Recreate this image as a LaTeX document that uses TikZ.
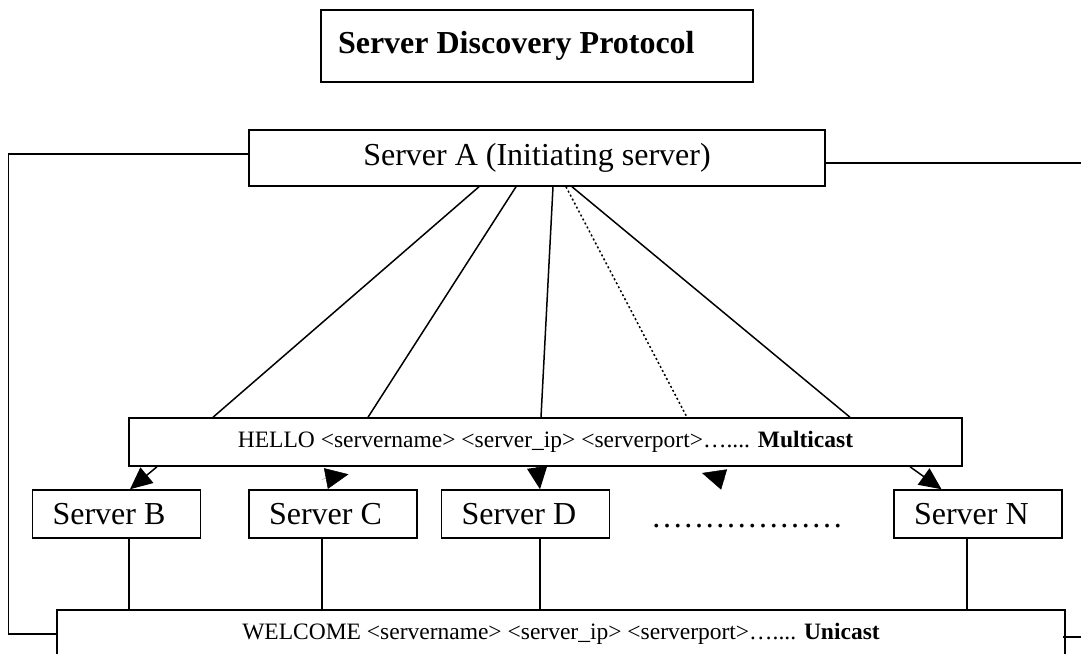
\documentclass[tikz,border=0pt]{standalone}
\usepackage{fontspec}
\setmainfont{Liberation Serif}
\usetikzlibrary{arrows.meta,positioning}

\newcommand{\bigfont}{\fontsize{32}{38}\selectfont}
\newcommand{\msgfont}{\fontsize{23.5}{28}\selectfont}

\tikzset{
	box/.style={
		rectangle,
		draw,
		line width=1.5pt,
		inner sep=0pt,
	},
	titlebox/.style={
		box,
		minimum height=72pt,
		text width=398pt,
		inner xsep=17pt,
		align=flush left,
		font=\bigfont\bfseries,
	},
	initbox/.style={
		box,
		minimum width=576pt,
		minimum height=56pt,
		font=\bigfont,
	},
	srvbox/.style={
		box,
		minimum height=48pt,
		text width=128pt,
		inner xsep=20pt,
		align=flush left,
		font=\bigfont,
	},
	msgbox/.style={
		box,
		minimum height=48pt,
		font=\msgfont,
	},
	link/.style={
		line width=1.5pt,
	},
	dotlink/.style={
		link,
		dash pattern=on 2pt off 2.5pt,
	},
	tip/.style={
		-{Triangle[length=22pt,width=20pt]},
		line width=1.5pt,
	},
	stubtip/.style={
		-{Triangle[length=23pt,width=21pt,line width=0.5pt]},
		line width=0.1pt,
	},
}

\begin{document}
\begin{tikzpicture}[x=1pt,y=-1pt]

\useasboundingbox (0,0) rectangle (1081,653);
\clip (0,0) rectangle (1081,653);

\node[titlebox] (title) at (537,46) {Server Discovery Protocol};
\node[initbox] (srvA) at (537,158) {Server A (Initiating server)};
\node[msgbox,minimum width=833pt] (hello) at (545.5,442)
  {HELLO <servername> <server\_ip> <serverport>….... \textbf{Multicast}};

\node[srvbox] (srvB) at (116.5,514) {Server B};
\node[srvbox] (srvC) [right=47pt of srvB] {Server C};
\node[srvbox] (srvD) [right=23pt of srvC] {Server D};
\node[srvbox] (srvN) [right=283pt of srvD] {Server N};
\node[anchor=base west,inner sep=0pt,font=\bigfont] (more) at (651,527) {………………};
\coordinate (moretip) at (702,473);

\node[msgbox,minimum width=1008pt] (welcome) at (561,634)
  {WELCOME <servername> <server\_ip> <serverport>….... \textbf{Unicast}};

% server A fans out to the multicast box
\draw[link] ([xshift=-58pt]srvA.south) -- ([xshift=-332.5pt]hello.north);
\draw[link] ([xshift=-21pt]srvA.south) -- ([xshift=-177.5pt]hello.north);
\draw[link] ([xshift=16pt]srvA.south) -- ([xshift=-4.5pt]hello.north);
\draw[dotlink] ([xshift=29pt]srvA.south) -- ([xshift=141.5pt]hello.north);
\draw[link] ([xshift=35pt]srvA.south) -- ([xshift=304.5pt]hello.north);

% multicast reaches the servers
\draw[tip] ([xshift=-388.5pt]hello.south) -- ([xshift=13.5pt]srvB.north);
\draw[stubtip] ([xshift=-223.5pt,yshift=-12.5pt]hello.south) -- ([xshift=15.5pt,yshift=15pt]srvC.north);
\draw[tip] ([xshift=-8.5pt]hello.south) -- ([xshift=14.5pt]srvD.north);
\draw[stubtip] ([xshift=179.5pt,yshift=-13pt]hello.south) -- (moretip);
\draw[tip] ([xshift=364.5pt]hello.south) -- ([xshift=-36.5pt]srvN.north);

% unicast replies
\draw[link] ([xshift=12.5pt]srvB.south) -- ++(0,72);
\draw[link] ([xshift=-11pt]srvC.south) -- ++(0,72);
\draw[link] ([xshift=14.5pt]srvD.south) -- ++(0,72);
\draw[link] ([xshift=-11pt]srvN.south) -- ++(0,72);

\draw[link] 
  ([yshift=4pt]srvA.west) 
  -- ++(-240,0) 
  |- 
  (welcome.west);
\draw[link] ([yshift=-5pt]srvA.east) -- ++(260,0);
\draw[link] ([xshift=-3pt,yshift=-3pt]welcome.east) -- ++(25,0);

\end{tikzpicture}
\end{document}
